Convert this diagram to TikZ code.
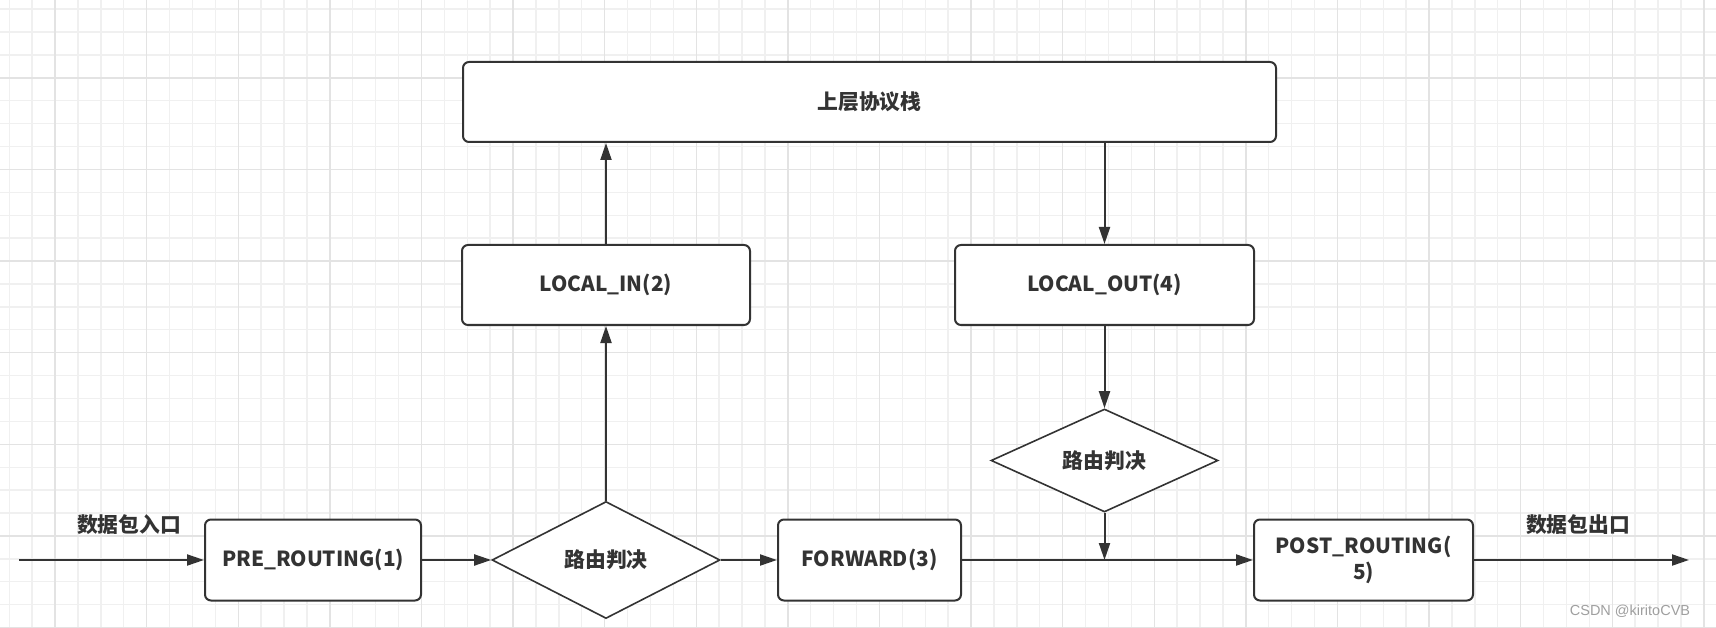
\documentclass[tikz,border=0pt]{standalone}
\usepackage{fontspec}
\setmainfont{Noto Sans CJK SC}
\newfontfamily\marksans{Liberation Sans}
\usetikzlibrary{shapes.geometric, positioning, arrows.meta}
\definecolor{linegray}{HTML}{333333}
\definecolor{gridminor}{HTML}{F0F0F0}
\definecolor{gridmajor}{HTML}{E3E3E3}
\tikzset{
    >={Triangle[length=17pt, width=11pt]}, % filled arrow heads
    hook/.style={rectangle, rounded corners=6pt, draw=linegray, line width=2pt, fill=white,
        text=linegray, font=\bfseries\fontsize{20.8}{26}\selectfont}, % netfilter hook boxes
    judge/.style={diamond, shape aspect=2, inner sep=0pt, draw=linegray, line width=1.6pt, fill=white,
        text=linegray, font=\bfseries\fontsize{20.8}{26}\selectfont,
        minimum width=228pt, minimum height=117pt}, % routing decision
    flow/.style={->, draw=linegray, line width=2pt},
    caption/.style={text=linegray, font=\bfseries\fontsize{20.8}{26}\selectfont},
}
\begin{document}
\begin{tikzpicture}[x=1pt, y=-1pt]
    \useasboundingbox[fill=white] (0,0) rectangle (1716,628);
    % background grid
    \foreach \i in {0,...,74} {
        \pgfmathsetmacro\gx{9.2+22.9*\i}
        \draw[gridminor, line width=1.4pt] (\gx,0) -- (\gx,628);
    }
    \foreach \i in {0,...,27} {
        \pgfmathsetmacro\gy{9.2+22.9*\i}
        \draw[gridminor, line width=1.4pt] (0,\gy) -- (1716,\gy);
    }
    \foreach \i in {2,6,...,74} {
        \pgfmathsetmacro\gx{9.2+22.9*\i}
        \draw[gridmajor, line width=1.4pt] (\gx,0) -- (\gx,628);
    }
    \foreach \i in {3,7,...,27} {
        \pgfmathsetmacro\gy{9.2+22.9*\i}
        \draw[gridmajor, line width=1.4pt] (0,\gy) -- (1716,\gy);
    }

    \node[hook, minimum width=216pt, minimum height=81pt] (pre) at (313,560) {PRE\_ROUTING(1)};
    \node[judge, right of=pre, node distance=293pt] (judge1) {路由判决};
    \node[hook, minimum width=183pt, minimum height=81pt, right of=judge1, node distance=263.5pt] (fwd) {FORWARD(3)};
    \node[hook, minimum width=219pt, minimum height=81pt, align=center, right of=fwd, node distance=494pt] (post) {POST\_ROUTING(\\5)};
    \node[hook, minimum width=288pt, minimum height=80pt, above of=judge1, node distance=275pt] (localin) {LOCAL\_IN(2)};
    \node[hook, minimum width=813pt, minimum height=80pt] (stack) at (869.5,102) {上层协议栈};
    \node[judge, minimum width=227pt, minimum height=103pt] (judge2) at (1104.5,460.5) {路由判决};
    \node[hook, minimum width=299pt, minimum height=80pt, above of=judge2, node distance=175.5pt] (localout) {LOCAL\_OUT(4)};

    \node[caption] (inlabel) at (129,525) {数据包入口};
    \node[caption] (outlabel) at (1578,525) {数据包出口};
    \node[text=gray!75, font=\marksans\fontsize{14.5}{16}\selectfont] (mark) at (1630,611) {CSDN @kiritoCVB};

    \coordinate (entry) at (19,560);
    \coordinate (exit) at (1689,560);
    \coordinate (merge) at (judge2.south |- fwd.east);

    \draw[flow] (entry) -- (pre);
    \draw[flow] (pre) -- (judge1);
    \draw[flow] (judge1) -- (fwd);
    \draw[flow] (fwd) -- (post);
    \draw[flow] (post) -- (exit);
    \draw[flow] (judge1) -- (localin);
    \draw[flow] (localin.north) -- (localin.north |- stack.south);
    \draw[flow] (stack.south -| localout.north) -- (localout.north);
    \draw[flow] (localout) -- (judge2);
    \draw[flow] (judge2) -- (merge);
\end{tikzpicture}
\end{document}
